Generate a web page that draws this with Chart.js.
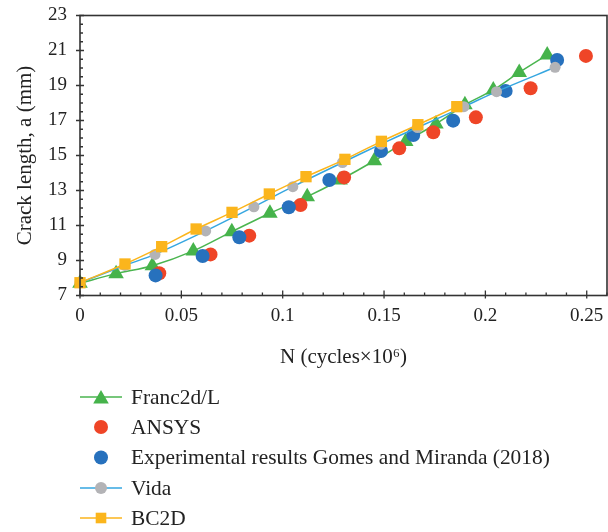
<!DOCTYPE html>
<html>
<head>
<meta charset="utf-8">
<script src="https://cdn.jsdelivr.net/npm/chart.js@4.4.1/dist/chart.umd.min.js"></script>
<style>
  html, body { margin: 0; padding: 0; background: #fff; }
  #wrap { width: 608px; height: 532px; }
</style>
</head>
<body>
<div id="wrap"><canvas id="crackChart" width="608" height="532"></canvas></div>
<script>
// values
const francN = [0, 0.0178, 0.0357, 0.0559, 0.0749, 0.0937, 0.1121, 0.1283, 0.1452, 0.1607, 0.1756, 0.1899, 0.2039, 0.2167, 0.2305];
const francA = [7.7, 8.25, 8.7, 9.55, 10.65, 11.7, 12.65, 13.6, 14.7, 15.8, 16.8, 17.9, 18.75, 19.75, 20.75];

const ansysN = [0.0391, 0.0644, 0.0835, 0.1088, 0.1303, 0.1575, 0.1743, 0.1953, 0.2223, 0.2496];
const ansysA = [8.27, 9.35, 10.42, 12.17, 13.75, 15.41, 16.33, 17.18, 18.84, 20.69];

const expN = [0.0373, 0.0605, 0.0786, 0.103, 0.123, 0.1485, 0.1644, 0.1841, 0.21, 0.2354];
const expA = [8.15, 9.26, 10.33, 12.04, 13.6, 15.26, 16.17, 16.99, 18.69, 20.46];

const vidaN = [0, 0.0222, 0.037, 0.062, 0.0858, 0.105, 0.1295, 0.1485, 0.1665, 0.1894, 0.2055, 0.2344];
const vidaA = [7.73, 8.72, 9.35, 10.69, 12.07, 13.22, 14.6, 15.65, 16.6, 17.79, 18.65, 20.04];

const bc2dN = [0, 0.0222, 0.0403, 0.0573, 0.075, 0.0934, 0.1115, 0.1307, 0.1487, 0.1667, 0.1859];
const bc2dA = [7.73, 8.8, 9.79, 10.8, 11.75, 12.8, 13.79, 14.78, 15.81, 16.76, 17.79];

const xTicks = [0, 0.05, 0.1, 0.15, 0.2, 0.25];
const xTickLabels = ['0', '0.05', '0.1', '0.15', '0.2', '0.25'];
const yTicks = [7, 9, 11, 13, 15, 17, 19, 21, 23];

const serif = "'Liberation Serif', 'DejaVu Serif', serif";
const axisColor = '#333333';

function toPoints(xs, ys) {
    return xs.map((x, i) => ({ x: x, y: ys[i] }));
}

// axis frame with ticks crossing the axes, minor ticks inside
const framePlugin = {
    id: 'frame',
    afterDatasetsDraw(chart) {
        const { ctx, chartArea: a, scales: { x, y } } = chart;
        ctx.save();
        ctx.strokeStyle = axisColor;
        ctx.lineWidth = 1.6;
        ctx.strokeRect(a.left, a.top, a.right - a.left, a.bottom - a.top);

        ctx.lineWidth = 1.3;
        ctx.beginPath();
        for (let v = 0; v <= 0.2601; v += 0.01) {
            const px = x.getPixelForValue(v);
            const major = Math.abs(v / 0.05 - Math.round(v / 0.05)) < 1e-6;
            ctx.moveTo(px, a.bottom + (major ? 3 : 0));
            ctx.lineTo(px, a.bottom - (major ? 5 : 3));
        }
        for (let v = 7; v <= 23.001; v += 0.5) {
            const py = y.getPixelForValue(v);
            const major = Math.abs((v - 7) / 2 - Math.round((v - 7) / 2)) < 1e-6;
            ctx.moveTo(a.left - (major ? 4 : 0), py);
            ctx.lineTo(a.left + (major ? 4 : 3), py);
        }
        ctx.stroke();
        ctx.restore();
    }
};

const legendItems = [
    { label: 'Franc2d/L', line: '#4ab54f', marker: 'triangle', color: '#46b34b', r: 9 },
    { label: 'ANSYS', line: null, marker: 'circle', color: '#ef4527', r: 7 },
    { label: 'Experimental results Gomes and Miranda (2018)', line: null, marker: 'circle', color: '#2771bd', r: 7 },
    { label: 'Vida', line: '#35a6e0', marker: 'circle', color: '#b3b3b6', r: 6 },
    { label: 'BC2D', line: '#fbb51c', marker: 'rect', color: '#fbb51c', r: 7.5 }
];

function drawMarker(ctx, style, cx, cy, r) {
    if (style === 'circle') {
        ctx.arc(cx, cy, r, 0, Math.PI * 2);
    } else if (style === 'rect') {
        const s = Math.SQRT1_2 * r;
        ctx.rect(cx - s, cy - s, 2 * s, 2 * s);
    } else {
        ctx.moveTo(cx, cy - r);
        ctx.lineTo(cx + r * Math.sin(Math.PI * 2 / 3), cy + r * 0.5);
        ctx.lineTo(cx - r * Math.sin(Math.PI * 2 / 3), cy + r * 0.5);
        ctx.closePath();
    }
}

const legendPlugin = {
    id: 'sideLegend',
    afterDraw(chart) {
        const ctx = chart.ctx;
        const rowY = [397, 427, 457.5, 488, 518];
        ctx.save();
        ctx.font = '21.4px ' + serif;
        ctx.textBaseline = 'middle';
        legendItems.forEach((item, i) => {
            const yy = rowY[i];
            if (item.line) {
                ctx.strokeStyle = item.line;
                ctx.lineWidth = 1.6;
                ctx.beginPath();
                ctx.moveTo(80, yy);
                ctx.lineTo(122, yy);
                ctx.stroke();
            }
            ctx.fillStyle = item.color;
            ctx.beginPath();
            drawMarker(ctx, item.marker, 101, yy + (item.marker === 'triangle' ? 2 : 0), item.r);
            ctx.fill();
            ctx.fillStyle = '#222';
            ctx.fillText(item.label, 131, yy + 1);
        });
        ctx.restore();
    }
};

const ctx = document.getElementById('crackChart');

new Chart(ctx, {
    type: 'scatter',
    data: {
        datasets: [
            {
                label: 'Franc2d/L',
                data: toPoints(francN, francA),
                showLine: true,
                borderColor: '#4ab54f',
                borderWidth: 1.5,
                tension: 0.3,
                pointStyle: 'triangle',
                pointRadius: 9,
                pointBackgroundColor: '#46b34b',
                pointBorderWidth: 0,
                order: 5
            },
            {
                label: 'ANSYS',
                data: toPoints(ansysN, ansysA),
                showLine: false,
                pointStyle: 'circle',
                pointRadius: 7,
                pointBackgroundColor: '#ef4527',
                pointBorderWidth: 0,
                order: 4
            },
            {
                label: 'Experimental results Gomes and Miranda (2018)',
                data: toPoints(expN, expA),
                showLine: false,
                pointStyle: 'circle',
                pointRadius: 7,
                pointBackgroundColor: '#2771bd',
                pointBorderWidth: 0,
                order: 3
            },
            {
                label: 'Vida',
                data: toPoints(vidaN, vidaA),
                showLine: true,
                borderColor: '#35a6e0',
                borderWidth: 1.5,
                tension: 0.3,
                pointStyle: 'circle',
                pointRadius: 5.5,
                pointBackgroundColor: '#b3b3b6',
                pointBorderWidth: 0,
                order: 2
            },
            {
                label: 'BC2D',
                data: toPoints(bc2dN, bc2dA),
                showLine: true,
                borderColor: '#fbb51c',
                borderWidth: 1.5,
                tension: 0.3,
                pointStyle: 'rect',
                pointRadius: 8,
                pointBackgroundColor: '#fbb51c',
                pointBorderWidth: 0,
                order: 1
            }
        ]
    },
    options: {
        responsive: false,
        devicePixelRatio: 1,
        animation: false,
        clip: false,
        layout: {
            autoPadding: false,
            padding: { left: 0, right: 1, top: 15.5, bottom: 156.5 }
        },
        plugins: {
            legend: { display: false },
            tooltip: { enabled: false }
        },
        scales: {
            x: {
                type: 'linear',
                min: 0,
                max: 0.26,
                afterBuildTicks: (scale) => { scale.ticks = xTicks.map(v => ({ value: v })); },
                afterFit: (scale) => {
                    scale.height = 80;
                    scale.paddingLeft = 0;
                    scale.paddingRight = 0;
                },
                grid: { display: false, drawTicks: false },
                border: { display: false },
                ticks: {
                    padding: 9,
                    maxRotation: 0,
                    autoSkip: false,
                    color: '#222',
                    font: { family: serif, size: 19 },
                    callback: (value) => xTickLabels[xTicks.indexOf(value)]
                },
                title: {
                    display: true,
                    text: 'N (cycles×10⁶)',
                    color: '#222',
                    font: { family: serif, size: 21 },
                    padding: { top: 0, bottom: 5 }
                }
            },
            y: {
                type: 'linear',
                min: 7,
                max: 23,
                afterBuildTicks: (scale) => { scale.ticks = yTicks.map(v => ({ value: v })); },
                afterFit: (scale) => {
                    scale.width = 80;
                    scale.paddingTop = 0;
                    scale.paddingBottom = 0;
                },
                grid: { display: false, drawTicks: false },
                border: { display: false },
                ticks: {
                    padding: 13,
                    autoSkip: false,
                    color: '#222',
                    font: { family: serif, size: 19 }
                },
                title: {
                    display: true,
                    text: 'Crack length, a (mm)',
                    color: '#222',
                    font: { family: serif, size: 21 },
                    padding: { top: 12.4, bottom: 0 }
                }
            }
        }
    },
    plugins: [framePlugin, legendPlugin]
});
</script>
</body>
</html>
